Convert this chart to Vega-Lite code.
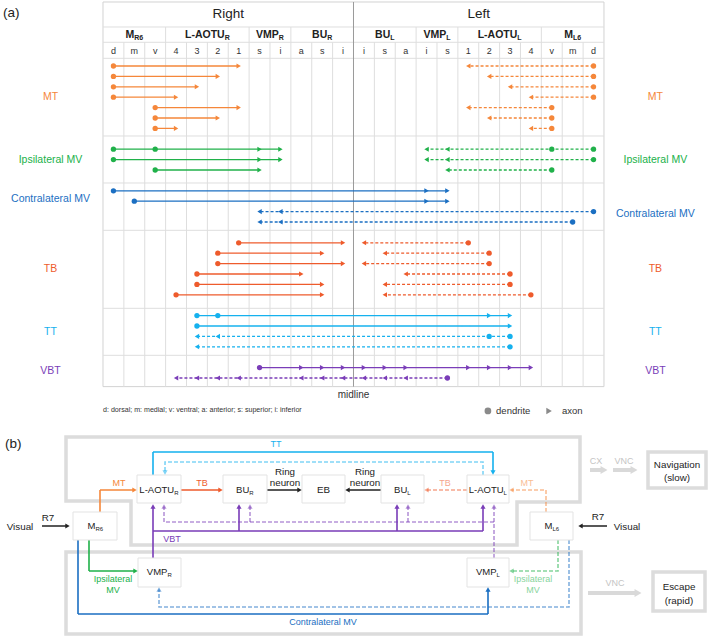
{
"$schema": "https://vega.github.io/schema/vega-lite/v6.json",
"width": 709, "height": 637, "padding": 0, "autosize": {"type": "none"},
"background": "white",
"config": {"view": {"stroke": null}, "font": "Liberation Sans", "text": {"font": "Liberation Sans"}},
"datasets": {
"a_lines": [
{"n":"MT","s":"R","y":1,"x":0,"x2":6},{"n":"MT","s":"R","y":2,"x":0,"x2":5},{"n":"MT","s":"R","y":3,"x":0,"x2":4},{"n":"MT","s":"R","y":4,"x":0,"x2":3},{"n":"MT","s":"R","y":5,"x":2,"x2":6},{"n":"MT","s":"R","y":6,"x":2,"x2":5},{"n":"MT","s":"R","y":7,"x":2,"x2":3},
{"n":"MT","s":"L","y":1,"x":23,"x2":17},{"n":"MT","s":"L","y":2,"x":23,"x2":18},{"n":"MT","s":"L","y":3,"x":23,"x2":19},{"n":"MT","s":"L","y":4,"x":23,"x2":20},{"n":"MT","s":"L","y":5,"x":21,"x2":17},{"n":"MT","s":"L","y":6,"x":21,"x2":18},{"n":"MT","s":"L","y":7,"x":21,"x2":20},
{"n":"Ipsi","s":"R","y":9,"x":0,"x2":8},{"n":"Ipsi","s":"R","y":10,"x":0,"x2":8},{"n":"Ipsi","s":"R","y":11,"x":2,"x2":7},
{"n":"Ipsi","s":"L","y":9,"x":23,"x2":15},{"n":"Ipsi","s":"L","y":10,"x":23,"x2":15},{"n":"Ipsi","s":"L","y":11,"x":21,"x2":16},
{"n":"Contra","s":"R","y":13,"x":0,"x2":16},{"n":"Contra","s":"R","y":14,"x":1,"x2":16},{"n":"Contra","s":"L","y":15,"x":23,"x2":7},{"n":"Contra","s":"L","y":16,"x":22,"x2":7},
{"n":"TB","s":"R","y":18,"x":6,"x2":11},{"n":"TB","s":"R","y":19,"x":5,"x2":10},{"n":"TB","s":"R","y":20,"x":5,"x2":11},{"n":"TB","s":"R","y":21,"x":4,"x2":9},{"n":"TB","s":"R","y":22,"x":4,"x2":10},{"n":"TB","s":"R","y":23,"x":3,"x2":10},
{"n":"TB","s":"L","y":18,"x":17,"x2":12},{"n":"TB","s":"L","y":19,"x":18,"x2":13},{"n":"TB","s":"L","y":20,"x":18,"x2":12},{"n":"TB","s":"L","y":21,"x":19,"x2":14},{"n":"TB","s":"L","y":22,"x":19,"x2":13},{"n":"TB","s":"L","y":23,"x":20,"x2":13},
{"n":"TT","s":"R","y":25,"x":4,"x2":19},{"n":"TT","s":"R","y":26,"x":4,"x2":19},{"n":"TT","s":"L","y":27,"x":19,"x2":4},{"n":"TT","s":"L","y":28,"x":19,"x2":4},
{"n":"VBT","s":"R","y":30,"x":7,"x2":20},{"n":"VBT","s":"L","y":31,"x":16,"x2":3}
],
"a_dend": [
{"n":"MT","s":"R","y":1,"x":0},{"n":"MT","s":"R","y":2,"x":0},{"n":"MT","s":"R","y":3,"x":0},{"n":"MT","s":"R","y":4,"x":0},{"n":"MT","s":"R","y":5,"x":2},{"n":"MT","s":"R","y":6,"x":2},{"n":"MT","s":"R","y":7,"x":2},
{"n":"MT","s":"L","y":1,"x":23},{"n":"MT","s":"L","y":2,"x":23},{"n":"MT","s":"L","y":3,"x":23},{"n":"MT","s":"L","y":4,"x":23},{"n":"MT","s":"L","y":5,"x":21},{"n":"MT","s":"L","y":6,"x":21},{"n":"MT","s":"L","y":7,"x":21},
{"n":"Ipsi","s":"R","y":9,"x":0},{"n":"Ipsi","s":"R","y":9,"x":2},{"n":"Ipsi","s":"R","y":10,"x":0},{"n":"Ipsi","s":"R","y":11,"x":2},
{"n":"Ipsi","s":"L","y":9,"x":23},{"n":"Ipsi","s":"L","y":9,"x":21},{"n":"Ipsi","s":"L","y":10,"x":23},{"n":"Ipsi","s":"L","y":11,"x":21},
{"n":"Contra","s":"R","y":13,"x":0},{"n":"Contra","s":"R","y":14,"x":1},{"n":"Contra","s":"L","y":15,"x":23},{"n":"Contra","s":"L","y":16,"x":22},
{"n":"TB","s":"R","y":18,"x":6},{"n":"TB","s":"R","y":19,"x":5},{"n":"TB","s":"R","y":20,"x":5},{"n":"TB","s":"R","y":21,"x":4},{"n":"TB","s":"R","y":22,"x":4},{"n":"TB","s":"R","y":23,"x":3},
{"n":"TB","s":"L","y":18,"x":17},{"n":"TB","s":"L","y":19,"x":18},{"n":"TB","s":"L","y":20,"x":18},{"n":"TB","s":"L","y":21,"x":19},{"n":"TB","s":"L","y":22,"x":19},{"n":"TB","s":"L","y":23,"x":20},
{"n":"TT","s":"R","y":25,"x":4},{"n":"TT","s":"R","y":25,"x":5},{"n":"TT","s":"R","y":26,"x":4},{"n":"TT","s":"L","y":27,"x":18},{"n":"TT","s":"L","y":27,"x":19},{"n":"TT","s":"L","y":28,"x":19},
{"n":"VBT","s":"R","y":30,"x":7},{"n":"VBT","s":"L","y":31,"x":16}
],
"a_axon": [
{"n":"MT","s":"R","y":1,"x":6},{"n":"MT","s":"R","y":2,"x":5},{"n":"MT","s":"R","y":3,"x":4},{"n":"MT","s":"R","y":4,"x":3},{"n":"MT","s":"R","y":5,"x":6},{"n":"MT","s":"R","y":6,"x":5},{"n":"MT","s":"R","y":7,"x":3},
{"n":"MT","s":"L","y":1,"x":17},{"n":"MT","s":"L","y":2,"x":18},{"n":"MT","s":"L","y":3,"x":19},{"n":"MT","s":"L","y":4,"x":20},{"n":"MT","s":"L","y":5,"x":17},{"n":"MT","s":"L","y":6,"x":18},{"n":"MT","s":"L","y":7,"x":20},
{"n":"Ipsi","s":"R","y":9,"x":7},{"n":"Ipsi","s":"R","y":9,"x":8},{"n":"Ipsi","s":"R","y":10,"x":7},{"n":"Ipsi","s":"R","y":10,"x":8},{"n":"Ipsi","s":"R","y":11,"x":7},
{"n":"Ipsi","s":"L","y":9,"x":16},{"n":"Ipsi","s":"L","y":9,"x":15},{"n":"Ipsi","s":"L","y":10,"x":16},{"n":"Ipsi","s":"L","y":10,"x":15},{"n":"Ipsi","s":"L","y":11,"x":16},
{"n":"Contra","s":"R","y":13,"x":15},{"n":"Contra","s":"R","y":13,"x":16},{"n":"Contra","s":"R","y":14,"x":15},{"n":"Contra","s":"R","y":14,"x":16},
{"n":"Contra","s":"L","y":15,"x":8},{"n":"Contra","s":"L","y":15,"x":7},{"n":"Contra","s":"L","y":16,"x":8},{"n":"Contra","s":"L","y":16,"x":7},
{"n":"TB","s":"R","y":18,"x":11},{"n":"TB","s":"R","y":19,"x":10},{"n":"TB","s":"R","y":20,"x":11},{"n":"TB","s":"R","y":21,"x":9},{"n":"TB","s":"R","y":22,"x":10},{"n":"TB","s":"R","y":23,"x":10},
{"n":"TB","s":"L","y":18,"x":12},{"n":"TB","s":"L","y":19,"x":13},{"n":"TB","s":"L","y":20,"x":12},{"n":"TB","s":"L","y":21,"x":14},{"n":"TB","s":"L","y":22,"x":13},{"n":"TB","s":"L","y":23,"x":13},
{"n":"TT","s":"R","y":25,"x":18},{"n":"TT","s":"R","y":25,"x":19},{"n":"TT","s":"R","y":26,"x":19},{"n":"TT","s":"L","y":27,"x":5},{"n":"TT","s":"L","y":27,"x":4},{"n":"TT","s":"L","y":28,"x":4},
{"n":"VBT","s":"R","y":30,"x":9},{"n":"VBT","s":"R","y":30,"x":10},{"n":"VBT","s":"R","y":30,"x":11},{"n":"VBT","s":"R","y":30,"x":12},{"n":"VBT","s":"R","y":30,"x":13},{"n":"VBT","s":"R","y":30,"x":14},{"n":"VBT","s":"R","y":30,"x":17},{"n":"VBT","s":"R","y":30,"x":18},{"n":"VBT","s":"R","y":30,"x":19},{"n":"VBT","s":"R","y":30,"x":20},
{"n":"VBT","s":"L","y":31,"x":14},{"n":"VBT","s":"L","y":31,"x":13},{"n":"VBT","s":"L","y":31,"x":12},{"n":"VBT","s":"L","y":31,"x":11},{"n":"VBT","s":"L","y":31,"x":10},{"n":"VBT","s":"L","y":31,"x":9},{"n":"VBT","s":"L","y":31,"x":6},{"n":"VBT","s":"L","y":31,"x":5},{"n":"VBT","s":"L","y":31,"x":4},{"n":"VBT","s":"L","y":31,"x":3}
],
"a_border": [{"x":-0.5,"x2":23.5,"y":-5.154,"y2":31.83}],
"a_hgrid": [{"y":-2.75,"x":-0.5,"x2":23.5},{"y":-1.28,"x":-0.5,"x2":23.5},{"y":0.26,"x":-0.5,"x2":23.5},{"y":7.73,"x":-0.5,"x2":23.5},{"y":12.25,"x":-0.5,"x2":23.5},{"y":16.8,"x":-0.5,"x2":23.5},{"y":24.3,"x":-0.5,"x2":23.5},{"y":28.82,"x":-0.5,"x2":23.5}],
"a_vgrid": [
{"x":0.5,"y":-1.28,"y2":31.83},{"x":1.5,"y":-1.28,"y2":31.83},{"x":2.5,"y":-2.75,"y2":31.83},{"x":3.5,"y":-1.28,"y2":31.83},{"x":4.5,"y":-1.28,"y2":31.83},{"x":5.5,"y":-1.28,"y2":31.83},{"x":6.5,"y":-2.75,"y2":31.83},{"x":7.5,"y":-1.28,"y2":31.83},{"x":8.5,"y":-2.75,"y2":31.83},{"x":9.5,"y":-1.28,"y2":31.83},{"x":10.5,"y":-1.28,"y2":31.83},
{"x":12.5,"y":-1.28,"y2":31.83},{"x":13.5,"y":-1.28,"y2":31.83},{"x":14.5,"y":-2.75,"y2":31.83},{"x":15.5,"y":-1.28,"y2":31.83},{"x":16.5,"y":-2.75,"y2":31.83},{"x":17.5,"y":-1.28,"y2":31.83},{"x":18.5,"y":-1.28,"y2":31.83},{"x":19.5,"y":-1.28,"y2":31.83},{"x":20.5,"y":-2.75,"y2":31.83},{"x":21.5,"y":-1.28,"y2":31.83},{"x":22.5,"y":-1.28,"y2":31.83}
],
"a_mid": [{"x":11.5,"y":-5.154,"y2":31.83}],
"a_lab": [
{"n":"MT","t":"MT","x":-3.015,"y":4},{"n":"Ipsi","t":"Ipsilateral MV","x":-3.015,"y":10},{"n":"Contra","t":"Contralateral MV","x":-3.015,"y":13.79},{"n":"TB","t":"TB","x":-3.015,"y":20.5},{"n":"TT","t":"TT","x":-3.015,"y":26.6},{"n":"VBT","t":"VBT","x":-3.015,"y":30.3},
{"n":"MT","t":"MT","x":25.96,"y":4},{"n":"Ipsi","t":"Ipsilateral MV","x":25.96,"y":10.04},{"n":"Contra","t":"Contralateral MV","x":25.96,"y":15.23},{"n":"TB","t":"TB","x":25.96,"y":20.5},{"n":"TT","t":"TT","x":25.96,"y":26.6},{"n":"VBT","t":"VBT","x":25.96,"y":30.3}
],
"a_head": [{"t":"Right","x":5.5,"y":-4},{"t":"Left","x":17.5,"y":-4}],
"a_reg": [
{"t":"M","sub":"R6","x":1.0,"y":-2},{"t":"L-AOTU","sub":"R","x":5.331,"y":-2},{"t":"VMP","sub":"R","x":7.924,"y":-2},{"t":"BU","sub":"R","x":10.244,"y":-2},
{"t":"BU","sub":"L","x":13.261,"y":-2},{"t":"VMP","sub":"L","x":15.941,"y":-2},{"t":"L-AOTU","sub":"L","x":19.348,"y":-2},{"t":"M","sub":"L6","x":22.013,"y":-2}
],
"a_col": [
{"t":"d","x":0,"y":-0.47},{"t":"m","x":1,"y":-0.47},{"t":"v","x":2,"y":-0.47},{"t":"4","x":3,"y":-0.47},{"t":"3","x":4,"y":-0.47},{"t":"2","x":5,"y":-0.47},{"t":"1","x":6,"y":-0.47},{"t":"s","x":7,"y":-0.47},{"t":"i","x":8,"y":-0.47},{"t":"a","x":9,"y":-0.47},{"t":"s","x":10,"y":-0.47},{"t":"i","x":11,"y":-0.47},
{"t":"i","x":12,"y":-0.47},{"t":"s","x":13,"y":-0.47},{"t":"a","x":14,"y":-0.47},{"t":"i","x":15,"y":-0.47},{"t":"s","x":16,"y":-0.47},{"t":"1","x":17,"y":-0.47},{"t":"2","x":18,"y":-0.47},{"t":"3","x":19,"y":-0.47},{"t":"4","x":20,"y":-0.47},{"t":"v","x":21,"y":-0.47},{"t":"m","x":22,"y":-0.47},{"t":"d","x":23,"y":-0.47}
],
"a_tag": [{"t":"(a)","x":-5.29,"y":-4.07}],
"a_midtxt": [{"t":"midline","x":11.5,"y":32.63}],
"a_foot": [{"t":"d: dorsal; m: medial; v: ventral; a: anterior; s: superior; i: inferior","x":-0.5,"y":34.1}],
"a_legdot": [{"x":17.94,"y":34.17}],
"a_legtri": [{"x":20.87,"y":34.17}],
"a_legtxt": [{"t":"dendrite","x":18.33,"y":34.17},{"t":"axon","x":21.49,"y":34.17}],
"b_frames": [
{"id":"up","o":1,"x":66,"y":437},{"id":"up","o":2,"x":580,"y":437},{"id":"up","o":3,"x":580,"y":502},{"id":"up","o":4,"x":517,"y":502},{"id":"up","o":5,"x":517,"y":545},{"id":"up","o":6,"x":131,"y":545},{"id":"up","o":7,"x":131,"y":501},{"id":"up","o":8,"x":66,"y":501},{"id":"up","o":9,"x":66,"y":437},
{"id":"lo","o":1,"x":66,"y":552},{"id":"lo","o":2,"x":581,"y":552},{"id":"lo","o":3,"x":581,"y":634},{"id":"lo","o":4,"x":66,"y":634},{"id":"lo","o":5,"x":66,"y":552},
{"id":"nav","o":1,"x":648,"y":452},{"id":"nav","o":2,"x":706,"y":452},{"id":"nav","o":3,"x":706,"y":488},{"id":"nav","o":4,"x":648,"y":488},{"id":"nav","o":5,"x":648,"y":452},
{"id":"esc","o":1,"x":653,"y":572},{"id":"esc","o":2,"x":705,"y":572},{"id":"esc","o":3,"x":705,"y":611},{"id":"esc","o":4,"x":653,"y":611},{"id":"esc","o":5,"x":653,"y":572}
],
"b_nodes": [
{"x":137,"x2":181,"y":475,"y2":503},{"x":223,"x2":267,"y":475,"y2":503},{"x":302,"x2":345,"y":475,"y2":503},{"x":381,"x2":424,"y":475,"y2":503},{"x":467,"x2":509,"y":475,"y2":503},
{"x":73,"x2":117,"y":512,"y2":540},{"x":530,"x2":573,"y":512,"y2":540},{"x":138,"x2":181,"y":558,"y2":587},{"x":467,"x2":509,"y":558,"y2":587}
],
"b_flow": [
{"id":"cx","o":1,"x":590,"y":470},{"id":"cx","o":2,"x":604,"y":470},
{"id":"vnc1","o":1,"x":613,"y":470},{"id":"vnc1","o":2,"x":634,"y":470},
{"id":"vnc2","o":1,"x":588,"y":593},{"id":"vnc2","o":2,"x":638,"y":593}
],
"b_flowhead": [{"x":604,"y":470},{"x":634,"y":470},{"x":638,"y":593}],
"b_paths": [
{"id":"mtR","n":"MT","s":"R","o":1,"x":100,"y":512},{"id":"mtR","n":"MT","s":"R","o":2,"x":100,"y":490},{"id":"mtR","n":"MT","s":"R","o":3,"x":134.5,"y":490},
{"id":"mtL","n":"MT","s":"L","o":1,"x":546,"y":512},{"id":"mtL","n":"MT","s":"L","o":2,"x":546,"y":490},{"id":"mtL","n":"MT","s":"L","o":3,"x":511.5,"y":490},
{"id":"tbR","n":"TB","s":"R","o":1,"x":181,"y":490},{"id":"tbR","n":"TB","s":"R","o":2,"x":220.5,"y":490},
{"id":"tbL","n":"TB","s":"L","o":1,"x":467,"y":490},{"id":"tbL","n":"TB","s":"L","o":2,"x":426.5,"y":490},
{"id":"ttR","n":"TT","s":"R","o":1,"x":153,"y":475},{"id":"ttR","n":"TT","s":"R","o":2,"x":153,"y":452},{"id":"ttR","n":"TT","s":"R","o":3,"x":493,"y":452},{"id":"ttR","n":"TT","s":"R","o":4,"x":493,"y":472.5},
{"id":"ttL","n":"TT","s":"L","o":1,"x":483,"y":475},{"id":"ttL","n":"TT","s":"L","o":2,"x":483,"y":462},{"id":"ttL","n":"TT","s":"L","o":3,"x":165,"y":462},{"id":"ttL","n":"TT","s":"L","o":4,"x":165,"y":472.5},
{"id":"vR0","n":"VBT","s":"R","o":1,"x":153,"y":558},{"id":"vR0","n":"VBT","s":"R","o":2,"x":153,"y":506.5},
{"id":"vR1","n":"VBT","s":"R","o":1,"x":153,"y":531},{"id":"vR1","n":"VBT","s":"R","o":2,"x":483,"y":531},
{"id":"vR2","n":"VBT","s":"R","o":1,"x":239,"y":531},{"id":"vR2","n":"VBT","s":"R","o":2,"x":239,"y":506.5},
{"id":"vR3","n":"VBT","s":"R","o":1,"x":397,"y":531},{"id":"vR3","n":"VBT","s":"R","o":2,"x":397,"y":506.5},
{"id":"vR4","n":"VBT","s":"R","o":1,"x":483,"y":531},{"id":"vR4","n":"VBT","s":"R","o":2,"x":483,"y":506.5},
{"id":"vL0","n":"VBT","s":"L","o":1,"x":494,"y":558},{"id":"vL0","n":"VBT","s":"L","o":2,"x":494,"y":506.5},
{"id":"vL1","n":"VBT","s":"L","o":1,"x":494,"y":522},{"id":"vL1","n":"VBT","s":"L","o":2,"x":164,"y":522},
{"id":"vL2","n":"VBT","s":"L","o":1,"x":164,"y":522},{"id":"vL2","n":"VBT","s":"L","o":2,"x":164,"y":506.5},
{"id":"vL3","n":"VBT","s":"L","o":1,"x":250,"y":522},{"id":"vL3","n":"VBT","s":"L","o":2,"x":250,"y":506.5},
{"id":"vL4","n":"VBT","s":"L","o":1,"x":408,"y":522},{"id":"vL4","n":"VBT","s":"L","o":2,"x":408,"y":506.5},
{"id":"ipR","n":"Ipsi","s":"R","o":1,"x":89,"y":540},{"id":"ipR","n":"Ipsi","s":"R","o":2,"x":89,"y":571},{"id":"ipR","n":"Ipsi","s":"R","o":3,"x":135.5,"y":571},
{"id":"ipL","n":"Ipsi","s":"L","o":1,"x":558,"y":540},{"id":"ipL","n":"Ipsi","s":"L","o":2,"x":558,"y":571},{"id":"ipL","n":"Ipsi","s":"L","o":3,"x":511.5,"y":571},
{"id":"coR","n":"Contra","s":"R","o":1,"x":78,"y":540},{"id":"coR","n":"Contra","s":"R","o":2,"x":78,"y":614},{"id":"coR","n":"Contra","s":"R","o":3,"x":488,"y":614},{"id":"coR","n":"Contra","s":"R","o":4,"x":488,"y":589.5},
{"id":"coL","n":"Contra","s":"L","o":1,"x":569,"y":540},{"id":"coL","n":"Contra","s":"L","o":2,"x":569,"y":607},{"id":"coL","n":"Contra","s":"L","o":3,"x":159,"y":607},{"id":"coL","n":"Contra","s":"L","o":4,"x":159,"y":589.5},
{"id":"rgR","n":"black","s":"R","o":1,"x":267,"y":490},{"id":"rgR","n":"black","s":"R","o":2,"x":299.5,"y":490},
{"id":"rgL","n":"black","s":"R","o":1,"x":381,"y":490},{"id":"rgL","n":"black","s":"R","o":2,"x":347.5,"y":490},
{"id":"r7R","n":"black","s":"R","o":1,"x":42,"y":526},{"id":"r7R","n":"black","s":"R","o":2,"x":67.5,"y":526},
{"id":"r7L","n":"black","s":"R","o":1,"x":607,"y":526},{"id":"r7L","n":"black","s":"R","o":2,"x":580.5,"y":526}
],
"b_heads": [
{"n":"MT","s":"R","d":"right","x":134.5,"y":490},{"n":"MT","s":"L","d":"left","x":511.5,"y":490},
{"n":"TB","s":"R","d":"right","x":220.5,"y":490},{"n":"TB","s":"L","d":"left","x":426.5,"y":490},
{"n":"TT","s":"R","d":"down","x":493,"y":472.5},{"n":"TT","s":"L","d":"down","x":165,"y":472.5},
{"n":"VBT","s":"R","d":"up","x":153,"y":506.5},{"n":"VBT","s":"R","d":"up","x":239,"y":506.5},{"n":"VBT","s":"R","d":"up","x":397,"y":506.5},{"n":"VBT","s":"R","d":"up","x":483,"y":506.5},
{"n":"VBT","s":"L","d":"up","x":494,"y":506.5},{"n":"VBT","s":"L","d":"up","x":164,"y":506.5},{"n":"VBT","s":"L","d":"up","x":250,"y":506.5},{"n":"VBT","s":"L","d":"up","x":408,"y":506.5},
{"n":"Ipsi","s":"R","d":"right","x":135.5,"y":571},{"n":"Ipsi","s":"L","d":"left","x":511.5,"y":571},
{"n":"Contra","s":"R","d":"up","x":488,"y":589.5},{"n":"Contra","s":"L","d":"up","x":159,"y":589.5},
{"n":"black","s":"R","d":"right","x":299.5,"y":490},{"n":"black","s":"R","d":"left","x":347.5,"y":490},
{"n":"black","s":"R","d":"right","x":67.5,"y":526},{"n":"black","s":"R","d":"left","x":580.5,"y":526}
],
"b_clab": [
{"n":"TT","s":"R","t":"TT","x":276,"y":444},
{"n":"MT","s":"R","t":"MT","x":119,"y":483},{"n":"TB","s":"R","t":"TB","x":202,"y":483},
{"n":"TB","s":"L","t":"TB","x":445,"y":483},{"n":"MT","s":"L","t":"MT","x":527,"y":483},
{"n":"VBT","s":"R","t":"VBT","x":172,"y":539},
{"n":"Ipsi","s":"R","t":"Ipsilateral","x":113,"y":579},{"n":"Ipsi","s":"R","t":"MV","x":113,"y":589.5},
{"n":"Ipsi","s":"L","t":"Ipsilateral","x":533,"y":579},{"n":"Ipsi","s":"L","t":"MV","x":533,"y":589.5},
{"n":"Contra","s":"R","t":"Contralateral MV","x":323,"y":622}
],
"b_lab": [
{"t":"Ring","x":285,"y":472},{"t":"neuron","x":285,"y":482.5},{"t":"Ring","x":365,"y":472},{"t":"neuron","x":365,"y":482.5},
{"t":"EB","x":323.5,"y":490},
{"t":"R7","x":48,"y":518},{"t":"Visual","x":20,"y":527},{"t":"R7","x":598,"y":517},{"t":"Visual","x":627,"y":527},
{"t":"Navigation","x":677,"y":465},{"t":"(slow)","x":677,"y":478},{"t":"Escape","x":679,"y":587},{"t":"(rapid)","x":679,"y":600.5}
],
"b_box": [
{"t":"L-AOTU","sub":"R","x":174.2,"y":490},{"t":"BU","sub":"R","x":249.25,"y":490},{"t":"BU","sub":"L","x":407.3,"y":490},{"t":"L-AOTU","sub":"L","x":503.6,"y":490},
{"t":"M","sub":"R6","x":95.45,"y":526},{"t":"M","sub":"L6","x":552.4,"y":526},{"t":"VMP","sub":"R","x":167.45,"y":572},{"t":"VMP","sub":"L","x":496.5,"y":572}
],
"b_gray": [{"t":"CX","x":596,"y":461},{"t":"VNC","x":624,"y":461},{"t":"VNC","x":615,"y":583}],
"b_tag": [{"t":"(b)","x":5,"y":444}]
},
"layer": [
{
"encoding": {
 "x": {"field": "x", "type": "quantitative", "scale": {"domain": [-5.434, 28.531], "zero": false, "nice": false}, "axis": null},
 "y": {"field": "y", "type": "quantitative", "scale": {"domain": [-5.346, 55.904], "reverse": true, "zero": false, "nice": false}, "axis": null}
},
"layer": [
 {"data": {"name": "a_border"}, "mark": {"type": "rect", "fill": "white", "stroke": "#d2d2d2", "strokeWidth": 1}, "encoding": {"x2": {"field": "x2"}, "y2": {"field": "y2"}}},
 {"data": {"name": "a_hgrid"}, "mark": {"type": "rule", "color": "#dedede", "strokeWidth": 1}, "encoding": {"x2": {"field": "x2"}}},
 {"data": {"name": "a_vgrid"}, "mark": {"type": "rule", "color": "#dedede", "strokeWidth": 1}, "encoding": {"y2": {"field": "y2"}}},
 {"data": {"name": "a_mid"}, "mark": {"type": "rule", "color": "#9a9a9a", "strokeWidth": 1}, "encoding": {"y2": {"field": "y2"}}},
 {"data": {"name": "a_lines"}, "mark": {"type": "rule", "strokeWidth": 1.3},
  "encoding": {"x2": {"field": "x2"},
   "color": {"field": "n", "type": "nominal", "scale": {"domain": ["MT","Ipsi","Contra","TB","TT","VBT","black"], "range": ["#F5873A","#20B14A","#1B6FC2","#EE5B2C","#15B1EE","#7A3DB8","#222222"]}, "legend": null},
   "strokeDash": {"field": "s", "type": "nominal", "scale": {"domain": ["R","L"], "range": [[1,0],[3,2]]}, "legend": null}}},
 {"data": {"name": "a_dend"}, "mark": {"type": "point", "shape": "circle", "filled": true, "size": 28, "opacity": 1},
  "encoding": {"color": {"field": "n", "type": "nominal", "scale": {"domain": ["MT","Ipsi","Contra","TB","TT","VBT","black"], "range": ["#F5873A","#20B14A","#1B6FC2","#EE5B2C","#15B1EE","#7A3DB8","#222222"]}, "legend": null}}},
 {"data": {"name": "a_axon"}, "mark": {"type": "point", "filled": true, "size": 26, "opacity": 1},
  "encoding": {"color": {"field": "n", "type": "nominal", "scale": {"domain": ["MT","Ipsi","Contra","TB","TT","VBT","black"], "range": ["#F5873A","#20B14A","#1B6FC2","#EE5B2C","#15B1EE","#7A3DB8","#222222"]}, "legend": null},
   "shape": {"field": "s", "type": "nominal", "scale": {"domain": ["R","L"], "range": ["triangle-right","triangle-left"]}, "legend": null}}},
 {"data": {"name": "a_lab"}, "mark": {"type": "text", "fontSize": 10.5},
  "encoding": {"text": {"field": "t"}, "color": {"field": "n", "type": "nominal", "scale": {"domain": ["MT","Ipsi","Contra","TB","TT","VBT","black"], "range": ["#F5873A","#20B14A","#1B6FC2","#EE5B2C","#15B1EE","#7A3DB8","#222222"]}, "legend": null}}},
 {"data": {"name": "a_head"}, "mark": {"type": "text", "fontSize": 13.5, "color": "#222"}, "encoding": {"text": {"field": "t"}}},
 {"data": {"name": "a_reg"}, "mark": {"type": "text", "fontSize": 10.5, "fontWeight": "bold", "align": "right", "color": "#222"}, "encoding": {"text": {"field": "t"}}},
 {"data": {"name": "a_reg"}, "mark": {"type": "text", "fontSize": 7, "fontWeight": "bold", "align": "left", "dy": 3, "color": "#222"}, "encoding": {"text": {"field": "sub"}}},
 {"data": {"name": "a_col"}, "mark": {"type": "text", "fontSize": 9, "color": "#333"}, "encoding": {"text": {"field": "t"}}},
 {"data": {"name": "a_tag"}, "mark": {"type": "text", "fontSize": 13.5, "align": "left", "color": "#222"}, "encoding": {"text": {"field": "t"}}},
 {"data": {"name": "a_midtxt"}, "mark": {"type": "text", "fontSize": 10, "color": "#333"}, "encoding": {"text": {"field": "t"}}},
 {"data": {"name": "a_foot"}, "mark": {"type": "text", "fontSize": 7.1, "align": "left", "color": "#333"}, "encoding": {"text": {"field": "t"}}},
 {"data": {"name": "a_legdot"}, "mark": {"type": "point", "shape": "circle", "filled": true, "size": 45, "opacity": 1, "color": "#8a8a8a"}},
 {"data": {"name": "a_legtri"}, "mark": {"type": "point", "shape": "triangle-right", "filled": true, "size": 40, "opacity": 1, "color": "#8a8a8a"}},
 {"data": {"name": "a_legtxt"}, "mark": {"type": "text", "fontSize": 9.5, "align": "left", "color": "#333"}, "encoding": {"text": {"field": "t"}}}
]
},
{
"encoding": {
 "x": {"field": "x", "type": "quantitative", "scale": {"domain": [0, 709], "zero": false, "nice": false}, "axis": null},
 "y": {"field": "y", "type": "quantitative", "scale": {"domain": [0, 637], "reverse": true, "zero": false, "nice": false}, "axis": null}
},
"layer": [
 {"data": {"name": "b_frames"}, "mark": {"type": "line", "color": "#dcdcdc", "strokeWidth": 3.5, "strokeCap": "square", "strokeJoin": "miter"},
  "encoding": {"detail": {"field": "id"}, "order": {"field": "o", "type": "quantitative"}}},
 {"data": {"name": "b_flow"}, "mark": {"type": "line", "color": "#d9d9d9", "strokeWidth": 4},
  "encoding": {"detail": {"field": "id"}, "order": {"field": "o", "type": "quantitative"}}},
 {"data": {"name": "b_flowhead"}, "mark": {"type": "point", "shape": "triangle-right", "filled": true, "size": 64, "opacity": 1, "color": "#d9d9d9"}},
 {"data": {"name": "b_paths"}, "mark": {"type": "line", "strokeWidth": 1.6},
  "encoding": {"detail": {"field": "id"}, "order": {"field": "o", "type": "quantitative"},
   "color": {"field": "n", "type": "nominal", "scale": {"domain": ["MT","Ipsi","Contra","TB","TT","VBT","black"], "range": ["#F5873A","#20B14A","#1B6FC2","#EE5B2C","#15B1EE","#7A3DB8","#222222"]}, "legend": null},
   "strokeDash": {"field": "s", "type": "nominal", "scale": {"domain": ["R","L"], "range": [[1,0],[4,2]]}, "legend": null},
   "opacity": {"field": "s", "type": "nominal", "scale": {"domain": ["R","L"], "range": [1,0.55]}, "legend": null}}},
 {"data": {"name": "b_nodes"}, "mark": {"type": "rect", "fill": "white", "stroke": "#e3e3e3", "strokeWidth": 1},
  "encoding": {"x2": {"field": "x2"}, "y2": {"field": "y2"}}},
 {"data": {"name": "b_heads"}, "mark": {"type": "point", "filled": true, "size": 26},
  "encoding": {
   "color": {"field": "n", "type": "nominal", "scale": {"domain": ["MT","Ipsi","Contra","TB","TT","VBT","black"], "range": ["#F5873A","#20B14A","#1B6FC2","#EE5B2C","#15B1EE","#7A3DB8","#222222"]}, "legend": null},
   "opacity": {"field": "s", "type": "nominal", "scale": {"domain": ["R","L"], "range": [1,0.55]}, "legend": null},
   "shape": {"field": "d", "type": "nominal", "scale": {"domain": ["up","down","left","right"], "range": ["triangle-up","triangle-down","triangle-left","triangle-right"]}, "legend": null}}},
 {"data": {"name": "b_clab"}, "mark": {"type": "text", "fontSize": 9},
  "encoding": {"text": {"field": "t"},
   "color": {"field": "n", "type": "nominal", "scale": {"domain": ["MT","Ipsi","Contra","TB","TT","VBT","black"], "range": ["#F5873A","#20B14A","#1B6FC2","#EE5B2C","#15B1EE","#7A3DB8","#222222"]}, "legend": null},
   "opacity": {"field": "s", "type": "nominal", "scale": {"domain": ["R","L"], "range": [1,0.55]}, "legend": null}}},
 {"data": {"name": "b_lab"}, "mark": {"type": "text", "fontSize": 9.8, "color": "#222"}, "encoding": {"text": {"field": "t"}}},
 {"data": {"name": "b_box"}, "mark": {"type": "text", "fontSize": 9.5, "align": "right", "color": "#222"}, "encoding": {"text": {"field": "t"}}},
 {"data": {"name": "b_box"}, "mark": {"type": "text", "fontSize": 6, "align": "left", "dy": 3, "color": "#222"}, "encoding": {"text": {"field": "sub"}}},
 {"data": {"name": "b_gray"}, "mark": {"type": "text", "fontSize": 9, "color": "#c4c4c4"}, "encoding": {"text": {"field": "t"}}},
 {"data": {"name": "b_tag"}, "mark": {"type": "text", "fontSize": 13.5, "align": "left", "color": "#222"}, "encoding": {"text": {"field": "t"}}}
]
}
],
"resolve": {"scale": {"x": "independent", "y": "independent", "shape": "independent", "strokeDash": "independent", "opacity": "independent"}}
}
